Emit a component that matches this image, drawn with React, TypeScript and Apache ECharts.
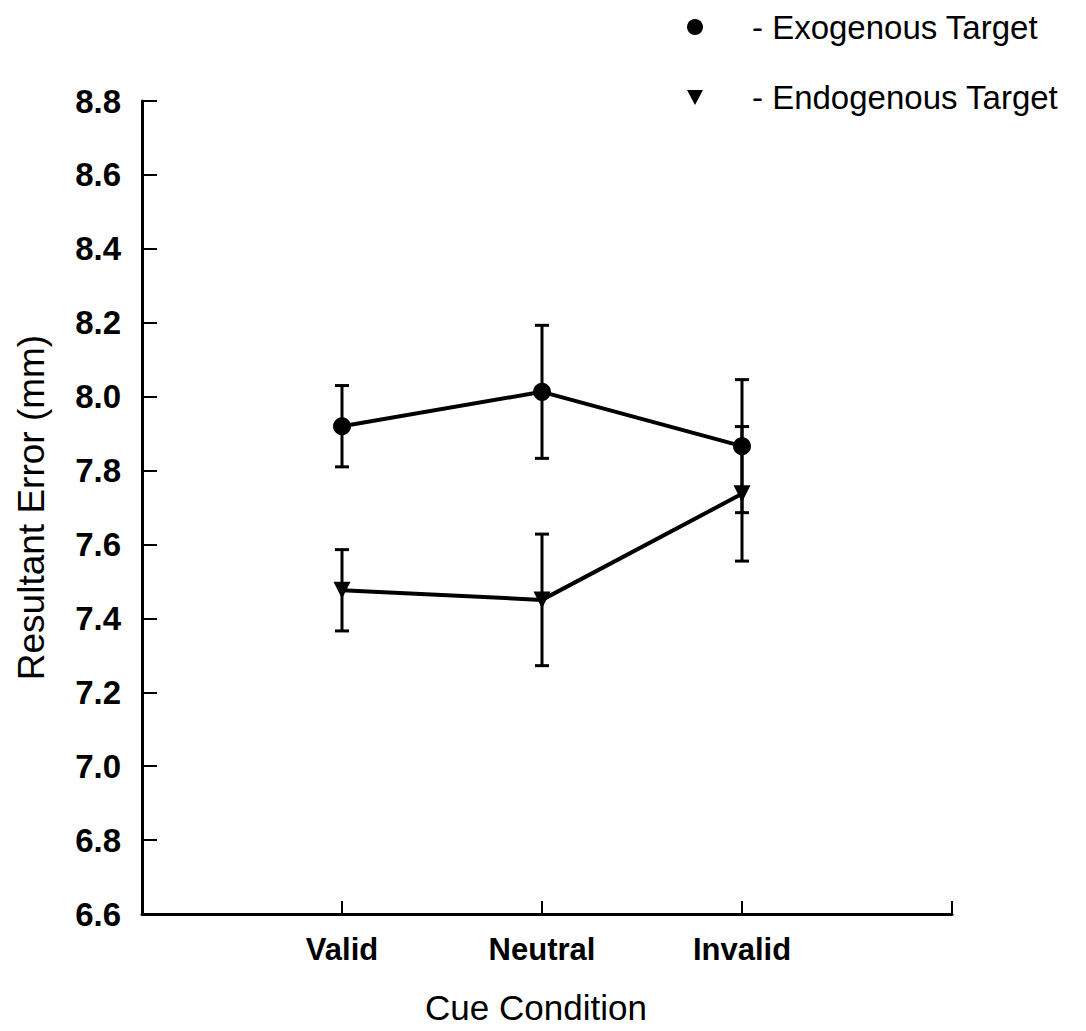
import React, { useEffect, useRef } from "react";
import * as echarts from "echarts";

const categories = ["Valid", "Neutral", "Invalid"];
const categoryPositions = [1, 2, 3];
const exoMean = [7.92, 8.013, 7.866];
const exoErr = [0.11, 0.18, 0.18];
const endoMean = [7.476, 7.45, 7.737];
const endoErr = [0.11, 0.178, 0.182];
const seriesNames = ["Exogenous Target", "Endogenous Target"];

const FONT = "'Liberation Sans', Arial, sans-serif";

function errorSeries(means: number[], errs: number[]) {
  return {
    type: "custom",
    silent: true,
    z: 3,
    data: means.map((m, i) => [categoryPositions[i], m - errs[i], m + errs[i]]),
    renderItem: (params: any, api: any) => {
      const x = api.value(0);
      const top = api.coord([x, api.value(2)]);
      const bot = api.coord([x, api.value(1)]);
      const cap = 7;
      const style = { stroke: "#000", lineWidth: 3 };
      return {
        type: "group",
        children: [
          { type: "line", shape: { x1: top[0], y1: top[1], x2: bot[0], y2: bot[1] }, style },
          { type: "line", shape: { x1: top[0] - cap, y1: top[1], x2: top[0] + cap, y2: top[1] }, style },
          { type: "line", shape: { x1: bot[0] - cap, y1: bot[1], x2: bot[0] + cap, y2: bot[1] }, style },
        ],
      };
    },
  };
}

export default function App() {
  const ref = useRef<HTMLDivElement>(null);
  useEffect(() => {
    if (!ref.current) return;
    const chart = echarts.init(ref.current, undefined, { renderer: "svg" });
    const option: any = {
      animation: false,
      backgroundColor: "#fff",
      grid: { left: 142, right: 134, top: 101, bottom: 117, containLabel: false },
      xAxis: {
        type: "value",
        min: 0,
        max: 4.05,
        name: "Cue Condition",
        nameLocation: "middle",
        nameGap: 76,
        nameTextStyle: { fontFamily: FONT, fontSize: 35, color: "#000", padding: [0, 22, 0, 0] },
        axisLine: { show: true, lineStyle: { color: "#000", width: 3 } },
        axisTick: {
          show: true,
          inside: true,
          length: 13,
          lineStyle: { color: "#000", width: 2 },
          customValues: [...categoryPositions, 4.05],
        },
        axisLabel: {
          customValues: categoryPositions,
          formatter: (v: number) => categories[categoryPositions.indexOf(Math.round(v))] ?? "",
          fontFamily: FONT,
          fontSize: 31,
          fontWeight: "bold",
          color: "#000",
          margin: 20,
        },
        splitLine: { show: false },
      },
      yAxis: {
        type: "value",
        min: 6.6,
        max: 8.8,
        interval: 0.2,
        name: "Resultant Error (mm)",
        nameLocation: "middle",
        nameGap: 92,
        nameRotate: 90,
        nameTextStyle: { fontFamily: FONT, fontSize: 37, color: "#000" },
        axisLine: { show: true, lineStyle: { color: "#000", width: 3 } },
        axisTick: { show: true, inside: true, length: 15, lineStyle: { color: "#000", width: 2 } },
        axisLabel: {
          formatter: (v: number) => v.toFixed(1),
          fontFamily: FONT,
          fontSize: 33,
          fontWeight: "bold",
          color: "#000",
          margin: 21,
        },
        splitLine: { show: false },
      },
      series: [
        errorSeries(exoMean, exoErr),
        errorSeries(endoMean, endoErr),
        {
          name: seriesNames[0],
          type: "line",
          z: 4,
          data: exoMean.map((m, i) => [categoryPositions[i], m]),
          symbol: "circle",
          symbolSize: 18,
          lineStyle: { color: "#000", width: 4 },
          itemStyle: { color: "#000" },
        },
        {
          name: seriesNames[1],
          type: "line",
          z: 4,
          data: endoMean.map((m, i) => [categoryPositions[i], m]),
          symbol: "triangle",
          symbolRotate: 180,
          symbolSize: 17,
          lineStyle: { color: "#000", width: 4 },
          itemStyle: { color: "#000" },
        },
      ],
      graphic: [
        { type: "circle", shape: { cx: 695, cy: 27, r: 8 }, style: { fill: "#000" } },
        {
          type: "polygon",
          shape: { points: [[687, 90], [703, 90], [695, 105]] },
          style: { fill: "#000" },
        },
        {
          type: "text",
          x: 752,
          y: 27,
          style: {
            text: "- " + seriesNames[0],
            fontFamily: FONT,
            fontSize: 33,
            fill: "#000",
            verticalAlign: "middle",
            align: "left",
          },
        },
        {
          type: "text",
          x: 752,
          y: 97,
          style: {
            text: "- " + seriesNames[1],
            fontFamily: FONT,
            fontSize: 33,
            fill: "#000",
            verticalAlign: "middle",
            align: "left",
          },
        },
      ],
    };
    chart.setOption(option);
    return () => chart.dispose();
  }, []);
  return (
    <div
      ref={ref}
      style={{ position: "fixed", left: 0, top: 0, width: 1086, height: 1031, background: "#fff" }}
    />
  );
}
